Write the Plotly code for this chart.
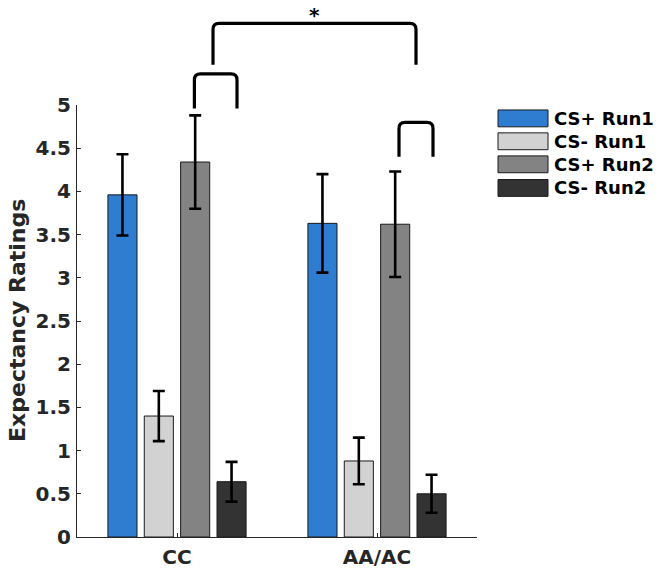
import plotly.graph_objects as go

# ---- data ----
categories = ["CC", "AA/AC"]
series_names = ["CS+ Run1", "CS- Run1", "CS+ Run2", "CS- Run2"]
means = {
    "CS+ Run1": [3.96, 3.63],
    "CS- Run1": [1.40, 0.88],
    "CS+ Run2": [4.34, 3.62],
    "CS- Run2": [0.64, 0.50],
}
errors = {
    "CS+ Run1": [0.47, 0.57],
    "CS- Run1": [0.29, 0.27],
    "CS+ Run2": [0.54, 0.61],
    "CS- Run2": [0.23, 0.22],
}
y_ticks = [0, 0.5, 1, 1.5, 2, 2.5, 3, 3.5, 4, 4.5, 5]
y_tick_labels = ["0", "0.5", "1", "1.5", "2", "2.5", "3", "3.5", "4", "4.5", "5"]
y_title = "Expectancy Ratings"
sig_label = "*"

colors = ["#2f7dd1", "#d2d2d2", "#838383", "#333333"]
FONT = "DejaVu Sans"
AX = "#262626"
x_pos = [1, 2]

fig = go.Figure()
for name, col in zip(series_names, colors):
    fig.add_trace(go.Bar(
        x=x_pos, y=means[name], name=name,
        marker=dict(color=col, line=dict(color="#1a1a1a", width=1)),
        error_y=dict(type="data", array=errors[name], color="black",
                     thickness=2.6, width=6),
        showlegend=False,
    ))

W, H = 661, 569
ML, MR, MT, MB = 77, 184, 105, 32
fig.update_layout(
    width=W, height=H,
    margin=dict(l=ML, r=MR, t=MT, b=MB, pad=0),
    paper_bgcolor="white", plot_bgcolor="white",
    barmode="group", bargap=0.2727, bargroupgap=0.2,
    font=dict(family=FONT, color=AX),
    xaxis=dict(range=[0.5, 2.5], tickvals=x_pos, ticktext=categories,
               showline=True, linecolor=AX, linewidth=1,
               ticks="inside", ticklen=4, tickcolor=AX,
               showgrid=False, zeroline=False, automargin=False,
               tickfont=dict(family=FONT, size=20, color=AX, weight="bold"),
               ticklabelstandoff=2),
    yaxis=dict(range=[0, 5], tickvals=y_ticks, ticktext=y_tick_labels,
               showline=True, linecolor=AX, linewidth=1,
               ticks="inside", ticklen=4, tickcolor=AX,
               showgrid=False, zeroline=False, automargin=False,
               tickfont=dict(family=FONT, size=20, color=AX, weight="bold"),
               ticklabelstandoff=1),
)

# y-axis title as annotation
fig.add_annotation(x=-0.15, y=0.5, xref="paper", yref="paper",
                   text=y_title, textangle=-90, showarrow=False,
                   xanchor="center", yanchor="middle",
                   font=dict(family=FONT, size=22, color=AX, weight="bold"))

# significance brackets (x in data units, y in paper units)
def bracket(x0, x1, ytop, ybot, rx=0.03, ry=0.014):
    path = (f"M {x0} {ybot} L {x0} {ytop - ry} Q {x0} {ytop} {x0 + rx} {ytop} "
            f"L {x1 - rx} {ytop} Q {x1} {ytop} {x1} {ytop - ry} L {x1} {ybot}")
    fig.add_shape(type="path", path=path, xref="x", yref="paper",
                  line=dict(color="black", width=3.2))

bracket(1.18, 2.195, 1.189, 1.093)
bracket(1.087, 1.30, 1.072, 0.992)
bracket(2.11, 2.28, 0.960, 0.880)
fig.add_annotation(x=1.6875, y=1.2407, xref="x", yref="paper", text=sig_label,
                   showarrow=False, xanchor="center", yanchor="top",
                   font=dict(family=FONT, size=20, color="black", weight="bold"))

# manual legend (paper coordinates)
row_y = [0.969, 0.916, 0.8627, 0.808]
for name, col, yc in zip(series_names, colors, row_y):
    fig.add_shape(type="rect", xref="paper", yref="paper",
                  x0=1.0525, x1=1.1775, y0=yc - 0.0195, y1=yc + 0.0195,
                  fillcolor=col, line=dict(color="#1a1a1a", width=1))
    fig.add_annotation(x=1.188, y=yc, xref="paper", yref="paper", text=name,
                       showarrow=False, xanchor="left", yanchor="middle",
                       font=dict(family=FONT, size=18, color="black", weight="bold"))

# remove the page's default body margin so the figure sits at the window origin
fig.write_html("out.html", config={"displayModeBar": False},
               post_script="document.body.style.margin='0px';")
